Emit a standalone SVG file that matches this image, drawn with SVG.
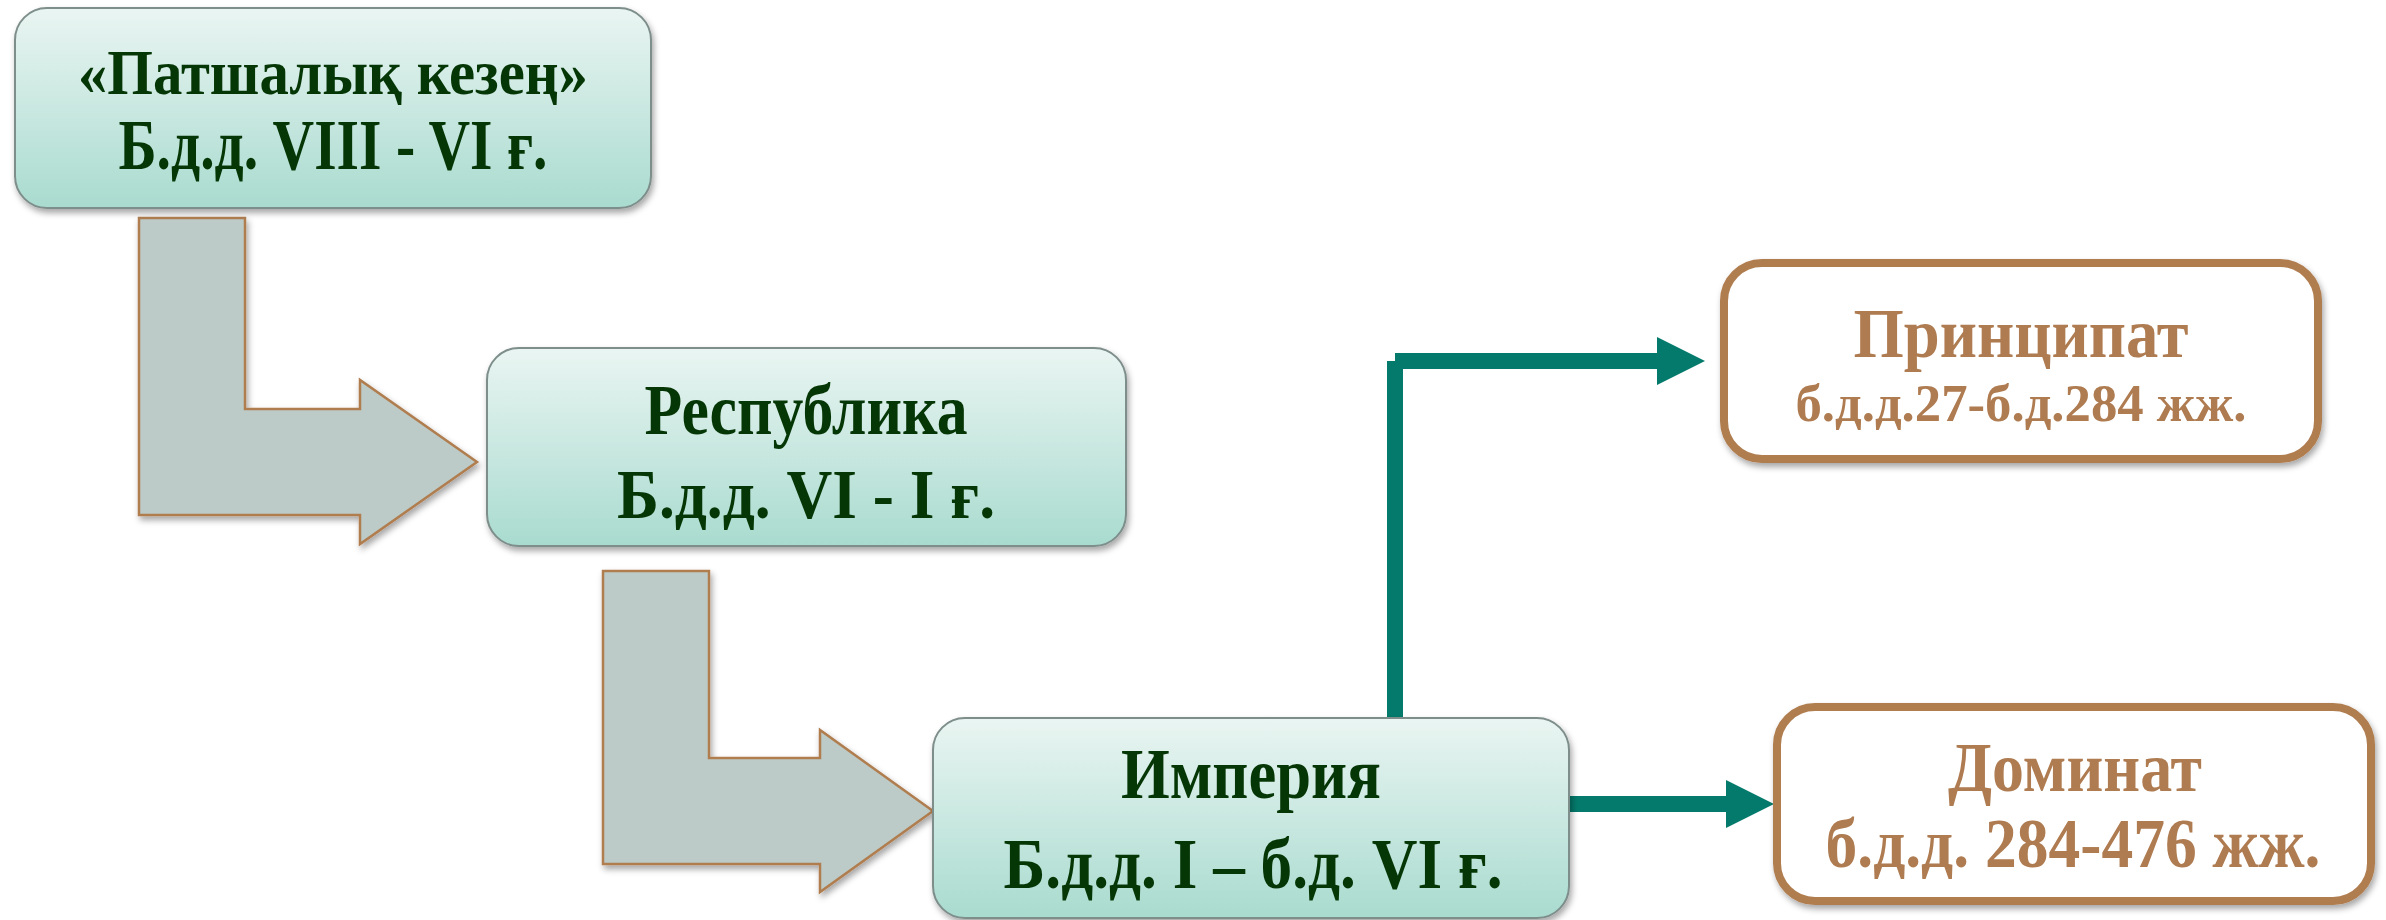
<svg xmlns="http://www.w3.org/2000/svg" width="2386" height="920" viewBox="0 0 2386 920">
  <defs>
    <linearGradient id="gGreen" x1="0" y1="0" x2="0" y2="1">
      <stop offset="0" stop-color="#EAF5F2"/>
      <stop offset="1" stop-color="#A9DBCF"/>
    </linearGradient>
    <filter id="shadow" x="-10%" y="-10%" width="120%" height="130%">
      <feDropShadow dx="2" dy="4" stdDeviation="3" flood-color="#000" flood-opacity="0.35"/>
    </filter>
    <marker id="head" viewBox="0 0 3 3" markerWidth="3" markerHeight="3" refX="0" refY="1.5" orient="auto">
      <path d="M0,0 L3,1.5 L0,3 z" fill="#037A6B"/>
    </marker>
    <style>
      .gbox { fill: url(#gGreen); stroke: #7E8E8B; stroke-width: 2; filter: url(#shadow); }
      .bbox { fill: #FFFFFF; stroke: #B07D50; stroke-width: 8; filter: url(#shadow); }
      .bent { fill: #BCCBC7; stroke: #B07D50; stroke-width: 2.5; filter: url(#shadow); }
      .gt { font-family: "Liberation Serif", "Times New Roman", serif; font-weight: bold; fill: #053605; text-anchor: middle; }
      .bt { font-family: "Liberation Serif", "Times New Roman", serif; font-weight: bold; fill: #AF7B50; text-anchor: middle; }
      .conn { fill: none; stroke: #037A6B; stroke-width: 16; stroke-linecap: butt; }
    </style>
  </defs>
  <rect width="2386" height="920" fill="#FFFFFF"/>

  <g id="bent-arrows">
    <polygon class="bent" points="139,218 245,218 245,409 360,409 360,380 477,462 360,544 360,515 139,515"/>
    <polygon class="bent" points="603,571 709,571 709,758 820,758 820,730 933,811 820,892 820,864 603,864"/>
  </g>

  <g id="connectors">
    <path class="conn" d="M1395,722 V361"/>
    <path class="conn" d="M1395,361 H1657" marker-end="url(#head)"/>
    <path class="conn" d="M1569,804 H1726" marker-end="url(#head)"/>
  </g>

  <g id="node-patshalyk">
    <rect class="gbox" x="15" y="8" width="636" height="200" rx="32"/>
    <text class="gt" x="333" y="94" font-size="63" textLength="510" lengthAdjust="spacingAndGlyphs">«Патшалық кезең»</text>
    <text class="gt" x="333" y="169" font-size="72" textLength="429" lengthAdjust="spacingAndGlyphs">Б.д.д. VIII - VI ғ.</text>
  </g>

  <g id="node-respublika">
    <rect class="gbox" x="487" y="348" width="639" height="198" rx="32"/>
    <text class="gt" x="806" y="434" font-size="72" textLength="323" lengthAdjust="spacingAndGlyphs">Республика</text>
    <text class="gt" x="806" y="518" font-size="70" textLength="378" lengthAdjust="spacingAndGlyphs">Б.д.д. VI - I ғ.</text>
  </g>

  <g id="node-imperiya">
    <rect class="gbox" x="933" y="718" width="636" height="200" rx="32"/>
    <text class="gt" x="1251" y="798" font-size="72" textLength="260" lengthAdjust="spacingAndGlyphs">Империя</text>
    <text class="gt" x="1253" y="888" font-size="72" textLength="499" lengthAdjust="spacingAndGlyphs">Б.д.д. I – б.д. VI ғ.</text>
  </g>

  <g id="node-principat">
    <rect class="bbox" x="1724" y="263" width="594" height="196" rx="38"/>
    <text class="bt" x="2021" y="357" font-size="70" textLength="335" lengthAdjust="spacingAndGlyphs">Принципат</text>
    <text class="bt" x="2021" y="421" font-size="52" textLength="451" lengthAdjust="spacingAndGlyphs">б.д.д.27-б.д.284 жж.</text>
  </g>

  <g id="node-dominat">
    <rect class="bbox" x="1777" y="707" width="594" height="194" rx="38"/>
    <text class="bt" x="2075" y="791" font-size="70" textLength="254" lengthAdjust="spacingAndGlyphs">Доминат</text>
    <text class="bt" x="2073" y="867" font-size="70" textLength="495" lengthAdjust="spacingAndGlyphs">б.д.д. 284-476 жж.</text>
  </g>
</svg>
